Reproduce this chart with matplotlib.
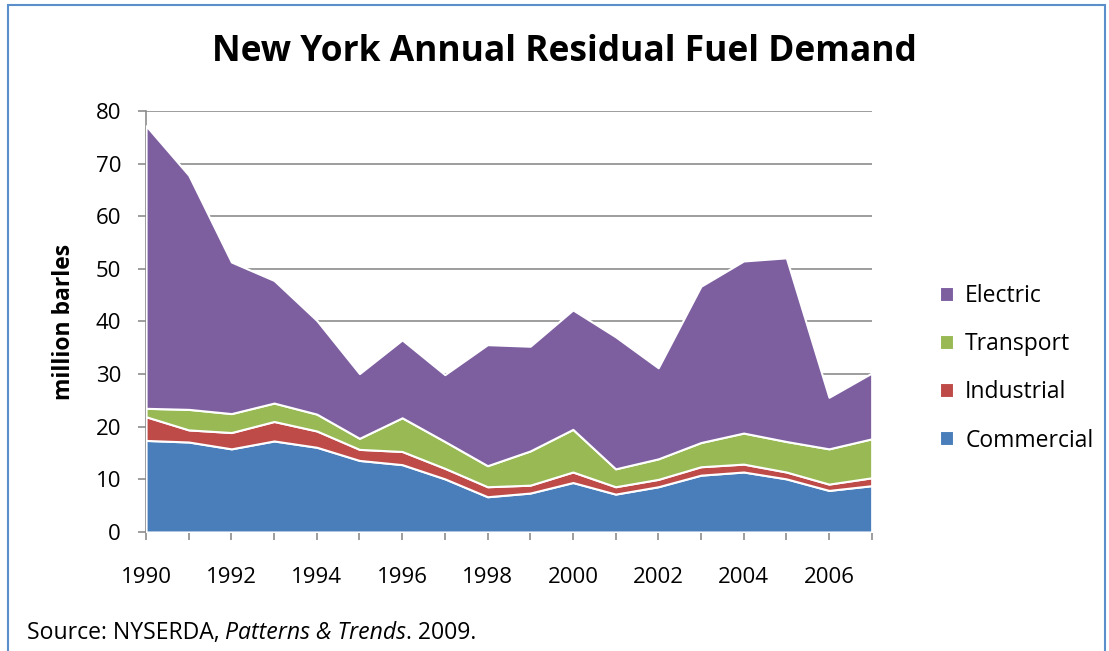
import matplotlib
matplotlib.use("Agg")
import matplotlib.pyplot as plt
from matplotlib.patches import Rectangle
import numpy as np

years = list(range(1990, 2008))
commercial = [17.4, 17.1, 15.8, 17.3, 16.1, 13.6, 12.8, 10.1, 6.7, 7.4, 9.4, 7.2, 8.6, 10.8, 11.4, 10.1, 7.9, 8.8]
industrial = [4.5, 2.3, 3.1, 3.7, 3.1, 2.1, 2.5, 2.0, 1.9, 1.5, 2.0, 1.4, 1.4, 1.6, 1.5, 1.3, 1.2, 1.5]
transport = [1.6, 3.9, 3.6, 3.5, 3.2, 2.1, 6.4, 5.1, 4.0, 6.5, 8.1, 3.4, 3.9, 4.6, 5.9, 5.8, 6.7, 7.4]
electric = [53.7, 44.5, 28.8, 23.3, 17.8, 12.3, 14.8, 12.7, 23.0, 19.9, 22.7, 25.1, 17.3, 29.7, 32.7, 34.9, 9.8, 12.5]
series_names = ["Commercial", "Industrial", "Transport", "Electric"]
colors = ["#4A7EBB", "#BE4B48", "#98B954", "#7D5FA0"]
yticks = [0, 10, 20, 30, 40, 50, 60, 70, 80]

plt.rcParams['font.family'] = ['Open Sans', 'DejaVu Sans']

fig = plt.figure(figsize=(11.09, 6.51), dpi=100)
ax = fig.add_axes([0.1317, 0.1828, 0.786 - 0.1317, 0.8295 - 0.1828])

ax.stackplot(years, commercial, industrial, transport, electric,
             colors=colors, labels=series_names,
             edgecolor="white", linewidth=1.5, zorder=3)

ax.set_xlim(1990, 2007)
ax.set_ylim(0, 80)
ax.set_yticks(yticks)
ax.set_xticks(years)
ax.set_xticklabels([str(y) if (y % 2 == 0) else "" for y in years])
ax.yaxis.grid(True, color="#8C8C8C", linewidth=1.2, zorder=0)
ax.set_axisbelow(True)
for s in ["top", "right"]:
    ax.spines[s].set_visible(False)
for s in ["left", "bottom"]:
    ax.spines[s].set_color("#8C8C8C")
    ax.spines[s].set_linewidth(1.2)
ax.tick_params(axis="both", colors="#8C8C8C", length=6, width=1.2, labelsize=16,
               labelcolor="black", direction="out")
ax.tick_params(axis="x", pad=19)
ax.tick_params(axis="y", pad=12)
ax.set_ylabel("million barles", fontsize=16.5, fontweight="bold")
ax.yaxis.set_label_coords(-0.097, 0.5)

fig.text(0.5086, 0.92, "New York Annual Residual Fuel Demand", ha="center", va="center",
         fontsize=25.5, fontweight="bold")

handles, labels = ax.get_legend_handles_labels()
fig.legend(handles[::-1], labels[::-1], loc="center left", bbox_to_anchor=(0.829, 0.434),
           frameon=False, fontsize=16.5, handlelength=0.6, handleheight=0.6,
           labelspacing=1.05, handletextpad=0.5)

y_src = 0.028
fs_src = 16.6
t1 = fig.text(0.024, y_src, "Source: NYSERDA, ", fontsize=fs_src, ha="left", va="center")
fig.canvas.draw()
r = fig.canvas.get_renderer()
bb = t1.get_window_extent(r)
t2 = fig.text(bb.x1 / fig.bbox.width, y_src, "Patterns & Trends", fontsize=fs_src,
              style="italic", ha="left", va="center")
bb2 = t2.get_window_extent(r)
fig.text(bb2.x1 / fig.bbox.width, y_src, ". 2009.", fontsize=fs_src, ha="left", va="center")

fig.patches.append(Rectangle((8 / 1109, -0.05), (1105 - 8) / 1109, 1.05 - 5 / 651,
                             transform=fig.transFigure, fill=False,
                             edgecolor="#5B8FCC", linewidth=1.5))

fig.savefig("out.png", dpi=100)
